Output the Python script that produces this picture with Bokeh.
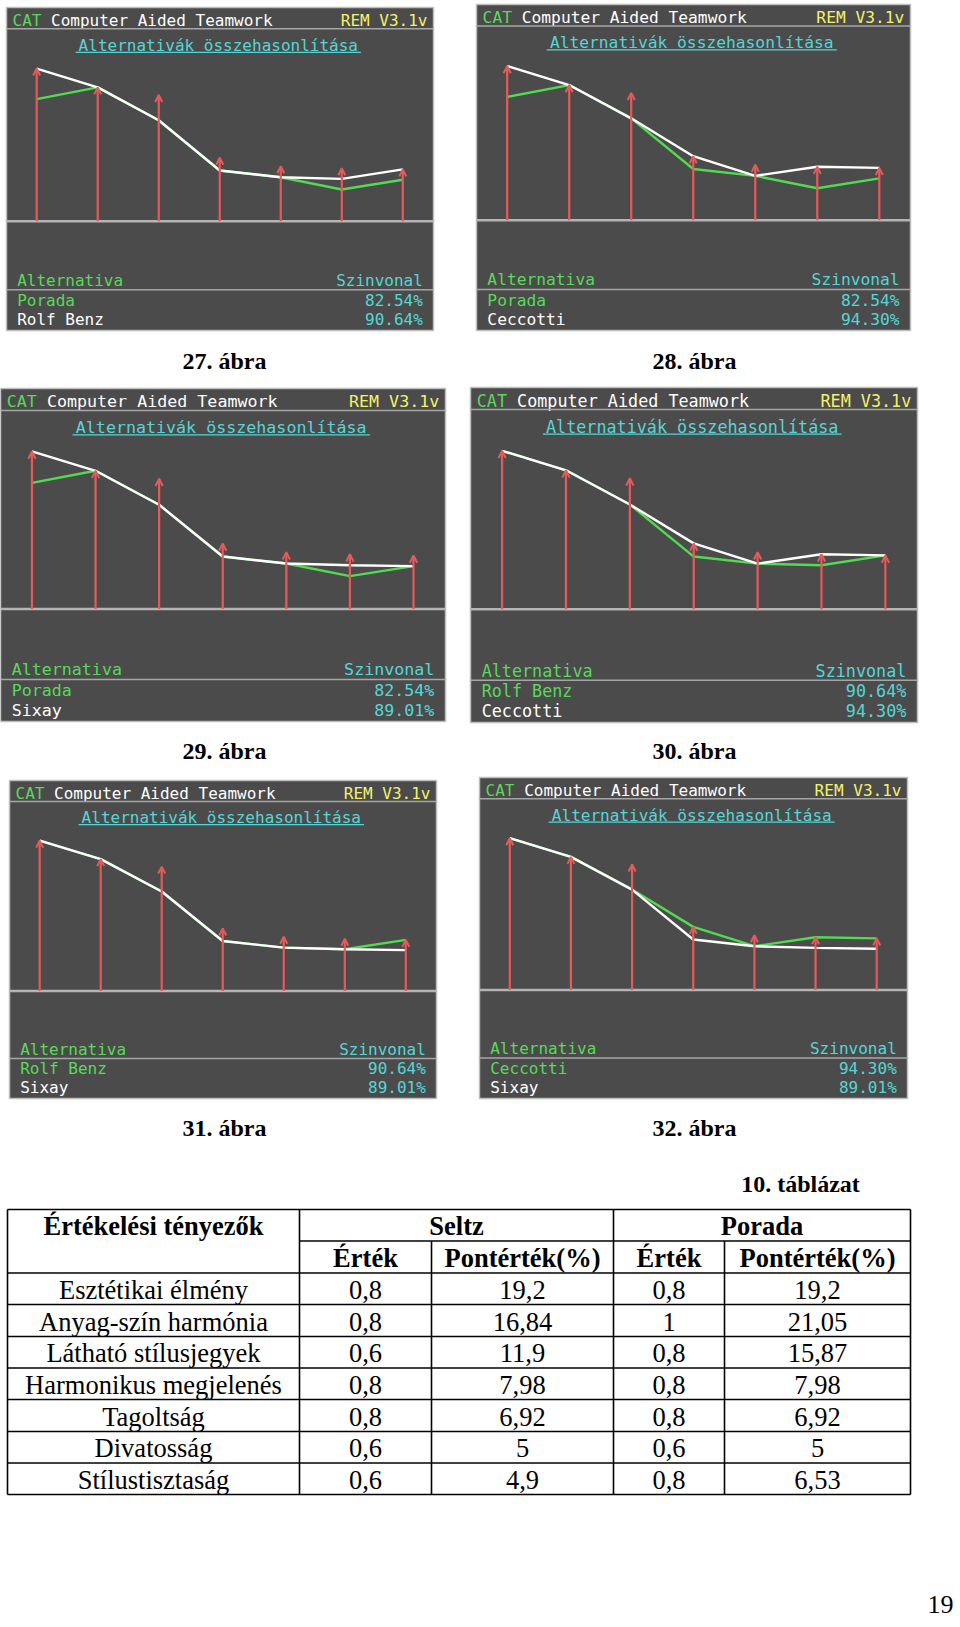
from bokeh.plotting import figure
from bokeh.models import Range1d, ColumnDataSource, Arrow, OpenHead
from bokeh.core.properties import value
from bokeh.embed import file_html
from bokeh.resources import INLINE

# ---------------- data ----------------
criteria = ["Esztétikai élmény", "Anyag-szín harmónia", "Látható stílusjegyek",
            "Harmonikus megjelenés", "Tagoltság", "Divatosság", "Stílustisztaság"]
# criterion weights (height of the red arrows, %)
weights = [24.0, 21.05, 19.84, 9.98, 8.65, 8.33, 8.16]

alternatives = ["Porada", "Rolf Benz", "Ceccotti", "Sixay"]
szinvonal = [82.54, 90.64, 94.30, 89.01]
porada_vals = [0.8, 1.0, 0.8, 0.8, 0.8, 0.6, 0.8]
rolf_benz_vals = [1.0, 1.0, 0.8, 0.8, 0.8, 0.8, 1.0]
ceccotti_vals = [1.0, 1.0, 0.8, 1.0, 0.8, 1.0, 1.0]
sixay_vals = [1.0, 1.0, 0.8, 0.8, 0.8, 0.8, 0.8]

# (green alternative, white alternative) for each screen
comparisons = [("Porada", "Rolf Benz"), ("Porada", "Ceccotti"), ("Porada", "Sixay"),
               ("Rolf Benz", "Ceccotti"), ("Rolf Benz", "Sixay"), ("Ceccotti", "Sixay")]
captions = ["27. ábra", "28. ábra", "29. ábra", "30. ábra", "31. ábra", "32. ábra"]

header_left = "CAT"
header_mid = "Computer Aided Teamwork"
header_right = "REM V3.1v"
screen_title = "Alternativák összehasonlítása"
legend_left = "Alternativa"
legend_right = "Szinvonal"

table_title = "10. táblázat"
table_head = ["Értékelési tényezők", "Seltz", "Porada", "Érték", "Pontérték(%)"]
seltz_ertek = [0.8, 0.8, 0.6, 0.8, 0.8, 0.6, 0.6]
seltz_pont = [19.2, 16.84, 11.9, 7.98, 6.92, 5, 4.9]
porada_ertek = [0.8, 1, 0.8, 0.8, 0.8, 0.6, 0.8]
porada_pont = [19.2, 21.05, 15.87, 7.98, 6.92, 5, 6.53]
page_number = "19"

alt_values = {"Porada": porada_vals, "Rolf Benz": rolf_benz_vals,
              "Ceccotti": ceccotti_vals, "Sixay": sixay_vals}
alt_score = dict(zip(alternatives, szinvonal))

# ---------------- layout / style ----------------
X0, X1, Y0, Y1 = 0, 958, 0, 1620
boxes = [(6, 7, 433, 330), (476, 4, 910, 330), (0, 388, 445, 721),
         (470, 387, 917, 722), (9, 780, 436, 1098), (479, 777, 907, 1098)]
cap_pos = [(224, 360), (694, 360), (224, 750), (694, 750), (224, 1127), (694, 1127)]

BG = "#4b4b4b"
RED = "#e65a5a"
GREEN = "#4fdc4f"
LGREEN = "#5ad85a"
CYAN = "#55d6d6"
YELLOW = "#f2f26a"
WHITE = "#ffffff"
SEP = "#a6a6a6"
MONO = value("DejaVu Sans Mono")
SERIF = value("Liberation Serif")

p = figure(width=X1 - X0, height=Y1 - Y0, x_range=Range1d(X0, X1), y_range=Range1d(Y1, Y0),
           output_backend="svg", toolbar_location=None, x_axis_type=None, y_axis_type=None,
           min_border=0, min_border_left=0, min_border_right=0, min_border_top=0,
           min_border_bottom=0)
p.grid.visible = False
p.outline_line_color = None
p.background_fill_color = "white"
p.border_fill_color = "white"

# extra ranges: one pair per screen, so data go through Bokeh's scales
xr, yr = {}, {}
geo = []
for k, (L, T, R, B) in enumerate(boxes):
    W, H = R - L, B - T
    x0 = L + 0.0707 * W
    dx = 0.1429 * W
    base = T + 0.662 * H
    kpx = 0.473 * H / 24.0
    xr[f"x{k}"] = Range1d(start=(X0 - x0) / dx, end=(X1 - x0) / dx)
    yr[f"y{k}"] = Range1d(start=(base - Y1) / kpx, end=(base - Y0) / kpx)
    geo.append((L, T, R, B, W, H, base))
p.extra_x_ranges = xr
p.extra_y_ranges = yr


def txt(x, y, s, color, size, font=MONO, align="left", style="normal"):
    p.text(x=[x], y=[y], text=[s], text_color=color, text_font=font,
           text_font_size=f"{size:.2f}px", text_align=align, text_baseline="middle",
           text_font_style=style)


idx = list(range(len(weights)))
for k, ((L, T, R, B, W, H, base), (ga, wa), cap, (cx, cy)) in enumerate(
        zip(geo, comparisons, captions, cap_pos)):
    s = W / 427.0
    fs = 16 * s
    cw = 0.602 * fs
    up = 0.32 * fs  # baseline -> middle
    p.quad(left=[L], right=[R], top=[T], bottom=[B], fill_color=BG,
           line_color="#bdbdbd", line_width=1.5)
    # header
    hy = T + 0.0557 * H - up
    txt(L + 6 * s, hy, header_left, LGREEN, fs)
    txt(L + 6 * s + 4 * cw, hy, header_mid, WHITE, fs)
    txt(R - 6 * s, hy, header_right, YELLOW, fs, align="right")
    p.segment(x0=[L], y0=[T + 0.066 * H], x1=[R], y1=[T + 0.066 * H], line_color=SEP, line_width=1.5)
    # title
    tcx = L + 0.496 * W
    txt(tcx, T + 0.133 * H - up, screen_title, CYAN, fs, align="center")
    half = len(screen_title) * cw / 2 + 3 * s
    p.segment(x0=[tcx - half], y0=[T + 0.139 * H], x1=[tcx + half], y1=[T + 0.139 * H],
              line_color=CYAN, line_width=1.2)
    # zero line
    p.segment(x0=[L], y0=[base], x1=[R], y1=[base], line_color="#b4b4b4", line_width=2.5)
    # red arrows (criterion weights)
    src = ColumnDataSource(dict(x=idx, y0=[0] * len(idx), y1=weights))
    p.add_layout(Arrow(end=OpenHead(size=7 * s, line_color=RED, line_width=2),
                       x_start="x", y_start="y0", x_end="x", y_end="y1", source=src,
                       line_color=RED, line_width=2.2,
                       x_range_name=f"x{k}", y_range_name=f"y{k}"))
    # lines: green then white
    for name, col in ((ga, GREEN), (wa, WHITE)):
        ys = [v * w for v, w in zip(alt_values[name], weights)]
        p.line(x=idx, y=ys, line_color=col, line_width=2.4,
               x_range_name=f"x{k}", y_range_name=f"y{k}")
    # legend area
    m = 0.025 * W
    txt(L + m, T + 0.861 * H - up, legend_left, LGREEN, fs)
    txt(R - m, T + 0.861 * H - up, legend_right, CYAN, fs, align="right")
    p.segment(x0=[L], y0=[T + 0.874 * H], x1=[R], y1=[T + 0.874 * H], line_color=SEP, line_width=1.5)
    for name, col, fy in ((ga, LGREEN, 0.923), (wa, WHITE, 0.983)):
        txt(L + m, T + fy * H - up, name, col, fs)
        txt(R - m, T + fy * H - up, f"{alt_score[name]:.2f}%", CYAN, fs, align="right")
    # caption
    txt(cx, cy, cap, "black", 24, font=SERIF, align="center", style="bold")

# ---------------- table ----------------
txt(800, 1183, table_title, "black", 24, font=SERIF, align="center", style="bold")
cols = [7, 299, 431, 613, 724, 910]
rows = [1209, 1240.5, 1272.5, 1304, 1336, 1367.5, 1399, 1431, 1462.5, 1494]
LW = 1.6
# horizontal lines
hx0, hx1, hy = [], [], []
for i, r in enumerate(rows):
    hx0.append(cols[1] if i == 1 else cols[0])
    hx1.append(cols[-1])
    hy.append(r)
p.segment(x0=hx0, y0=hy, x1=hx1, y1=hy, line_color="black", line_width=LW)
# vertical lines
vx, vy0 = [], []
for j, c in enumerate(cols):
    vx.append(c)
    vy0.append(rows[1] if j in (2, 4) else rows[0])
p.segment(x0=vx, y0=vy0, x1=vx, y1=[rows[-1]] * len(vx), line_color="black", line_width=LW)

FS_T = 26.5


def mid(a, b):
    return (a + b) / 2


txt(mid(cols[0], cols[1]), mid(rows[0], rows[1]) + 1, table_head[0], "black", FS_T, font=SERIF,
    align="center", style="bold")
txt(mid(cols[1], cols[3]), mid(rows[0], rows[1]) + 1, table_head[1], "black", FS_T, font=SERIF,
    align="center", style="bold")
txt(mid(cols[3], cols[5]), mid(rows[0], rows[1]) + 1, table_head[2], "black", FS_T, font=SERIF,
    align="center", style="bold")
for a, b, t in ((1, 2, table_head[3]), (2, 3, table_head[4]), (3, 4, table_head[3]), (4, 5, table_head[4])):
    txt(mid(cols[a], cols[b]), mid(rows[1], rows[2]) + 1, t, "black", FS_T, font=SERIF,
        align="center", style="bold")


def fmt(v):
    return f"{v:g}".replace(".", ",")


for i, name in enumerate(criteria):
    yc = mid(rows[i + 2], rows[i + 3]) + 1
    cells = [name, fmt(seltz_ertek[i]), fmt(seltz_pont[i]), fmt(porada_ertek[i]), fmt(porada_pont[i])]
    for j, t in enumerate(cells):
        txt(mid(cols[j], cols[j + 1]), yc, t, "black", FS_T, font=SERIF, align="center")

txt(953, 1604, page_number, "black", 26, font=SERIF, align="right")

open("out.html", "w").write(file_html(p, INLINE))
